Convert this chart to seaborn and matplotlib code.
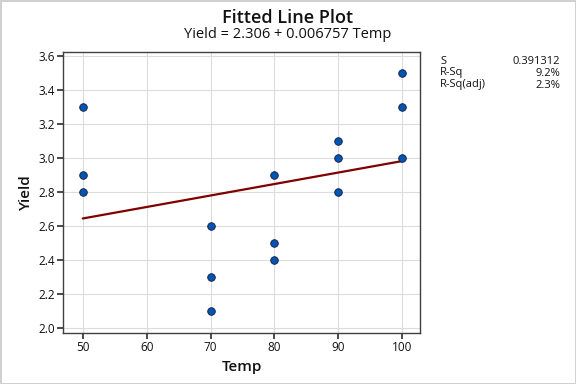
import numpy as np
import pandas as pd
import matplotlib
matplotlib.use("Agg")
import matplotlib.pyplot as plt
import seaborn as sns

# data
temp = [50, 50, 50, 70, 70, 70, 80, 80, 80, 90, 90, 90, 100, 100, 100]
yield_ = [3.3, 2.9, 2.8, 2.6, 2.3, 2.1, 2.9, 2.5, 2.4, 3.1, 3.0, 2.8, 3.5, 3.3, 3.0]
x_ticks = [50, 60, 70, 80, 90, 100]
y_ticks = [2.0, 2.2, 2.4, 2.6, 2.8, 3.0, 3.2, 3.4, 3.6]

df = pd.DataFrame({"Temp": temp, "Yield": yield_})

# least squares fit
slope, intercept = np.polyfit(df["Temp"], df["Yield"], 1)
pred = intercept + slope * df["Temp"]
resid = df["Yield"] - pred
n = len(df)
s = np.sqrt((resid ** 2).sum() / (n - 2))
ss_tot = ((df["Yield"] - df["Yield"].mean()) ** 2).sum()
r2 = 1 - (resid ** 2).sum() / ss_tot
r2_adj = 1 - (1 - r2) * (n - 1) / (n - 2)

sns.set_theme(style="whitegrid")
plt.rcParams["font.family"] = ["Open Sans", "DejaVu Sans"]
plt.rcParams["text.color"] = "#111111"
plt.rcParams["axes.labelcolor"] = "#111111"
plt.rcParams["xtick.color"] = "#111111"
plt.rcParams["ytick.color"] = "#111111"

fig = plt.figure(figsize=(5.76, 3.84), dpi=100, edgecolor="#d0d0d0", linewidth=2)
ax = fig.add_axes([63 / 576, 1 - 333 / 384, 357 / 576, 281 / 384])

line_df = pd.DataFrame({"Temp": [min(temp), max(temp)]})
line_df["Fit"] = intercept + slope * line_df["Temp"]
sns.lineplot(data=line_df, x="Temp", y="Fit", color="#800000", linewidth=1.6, ax=ax)
sns.scatterplot(data=df, x="Temp", y="Yield", color="#0055b0", edgecolor="#1a1a40",
                linewidth=0.6, s=30, ax=ax, zorder=3)

ax.set_xlim(46.9, 102.8)
ax.set_ylim(1.97, 3.624)
ax.set_xticks(x_ticks)
ax.set_yticks(y_ticks)
ax.set_yticklabels([f"{v:.1f}" for v in y_ticks])
ax.tick_params(axis="both", labelsize=8.5, length=4, color="#333333", left=True, bottom=True,
               pad=2)
ax.grid(True, color="#dcdcdc", linewidth=0.8)
for sp in ax.spines.values():
    sp.set_color("#404040")
    sp.set_linewidth(1)
ax.set_xlabel("Temp", fontsize=11, fontweight="semibold")
ax.set_ylabel("Yield", fontsize=11, fontweight="semibold")

fig.text(0.5, 1 - 18 / 384, "Fitted Line Plot", ha="center", va="center",
         fontsize=13, fontweight="semibold")
fig.text(0.5, 1 - 34 / 384, f"Yield = {intercept:.3f} + {slope:.6f} Temp", ha="center",
         va="center", fontsize=10.5)

# summary table
rows = [("S", f"{s:.6f}"), ("R-Sq", f"{r2 * 100:.1f}%"), ("R-Sq(adj)", f"{r2_adj * 100:.1f}%")]
for i, (k, v) in enumerate(rows):
    y = 1 - (61 + i * 12) / 384
    fig.text(440 / 576, y, k, ha="left", va="center", fontsize=8)
    fig.text(560 / 576, y, v, ha="right", va="center", fontsize=8)

fig.savefig("out.png", dpi=100, edgecolor=fig.get_edgecolor())
